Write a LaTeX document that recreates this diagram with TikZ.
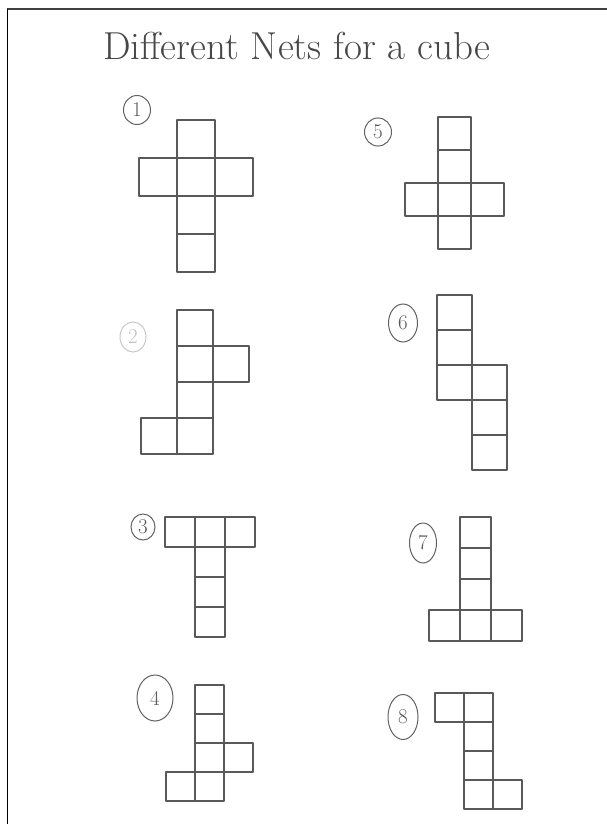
\documentclass[tikz,border=0pt]{standalone}
\usetikzlibrary{shapes.geometric}

\begin{document}
\begin{tikzpicture}[
  x=1pt, y=-1pt,
  netline/.style={draw=black!65, line width=1.2pt, line join=round},
  numlab/.style={draw=black!62, ellipse, line width=1pt, inner sep=0pt,
    text=black!65, font=\fontsize{21}{21}\selectfont},
]

% page and frame
\useasboundingbox (0,0) rectangle (607,824);
\draw[black!75, line width=1.3pt] (7,9) -- (607,9);
\draw[black, line width=1pt] (7,9) -- (7,824);

% title
\node[anchor=base west, text=black!72, inner sep=0pt,
  font=\fontsize{39}{42}\selectfont] (title) at (103,60)
  {Different Nets for a cube};

% ============================================================
% LEFT COLUMN: NETS 1--4
% ============================================================
\def\s{38}
\foreach \c/\r in {0/0,-1/1,0/1,1/1,0/2,0/3}
  \draw[netline] (177+\c*\s, 120+\r*\s) rectangle ++(\s,\s);
\node[numlab, minimum width=27, minimum height=29] (lab1) at (137,110) {1};

\def\s{36}
\foreach \c/\r in {0/0,0/1,1/1,0/2,-1/3,0/3}
  \draw[netline] (177+\c*\s, 310+\r*\s) rectangle ++(\s,\s);
\node[numlab, draw=black!22, text=black!25, minimum width=26, minimum height=30]
  (lab2) at (133,337) {2};

\def\s{30}
\foreach \c/\r in {-1/0,0/0,1/0,0/1,0/2,0/3}
  \draw[netline] (195+\c*\s, 517+\r*\s) rectangle ++(\s,\s);
\node[numlab, minimum width=24, minimum height=26] (lab3) at (143,527) {3};

\def\s{29}
\foreach \c/\r in {0/0,0/1,0/2,1/2,-1/3,0/3}
  \draw[netline] (195+\c*\s, 685+\r*\s) rectangle ++(\s,\s);
\node[numlab, minimum width=36, minimum height=46] (lab4) at (155,698) {4};

% ============================================================
% RIGHT COLUMN: NETS 5--8
% ============================================================
\def\s{33}
\foreach \c/\r in {0/0,0/1,-1/2,0/2,1/2,0/3}
  \draw[netline] (438+\c*\s, 117+\r*\s) rectangle ++(\s,\s);
\node[numlab, minimum width=27, minimum height=28] (lab5) at (378,132) {5};

\def\s{35}
\foreach \c/\r in {0/0,0/1,0/2,1/2,1/3,1/4}
  \draw[netline] (437+\c*\s, 295+\r*\s) rectangle ++(\s,\s);
\node[numlab, minimum width=29, minimum height=38] (lab6) at (403,323) {6};

\def\s{31}
\foreach \c/\r in {0/0,0/1,0/2,-1/3,0/3,1/3}
  \draw[netline] (460+\c*\s, 517+\r*\s) rectangle ++(\s,\s);
\node[numlab, minimum width=27, minimum height=40] (lab7) at (423,543) {7};

\def\s{29}
\foreach \c/\r in {-1/0,0/0,0/1,0/2,0/3,1/3}
  \draw[netline] (464+\c*\s, 693+\r*\s) rectangle ++(\s,\s);
\node[numlab, minimum width=30, minimum height=45] (lab8) at (403,717) {8};

\end{tikzpicture}
\end{document}
